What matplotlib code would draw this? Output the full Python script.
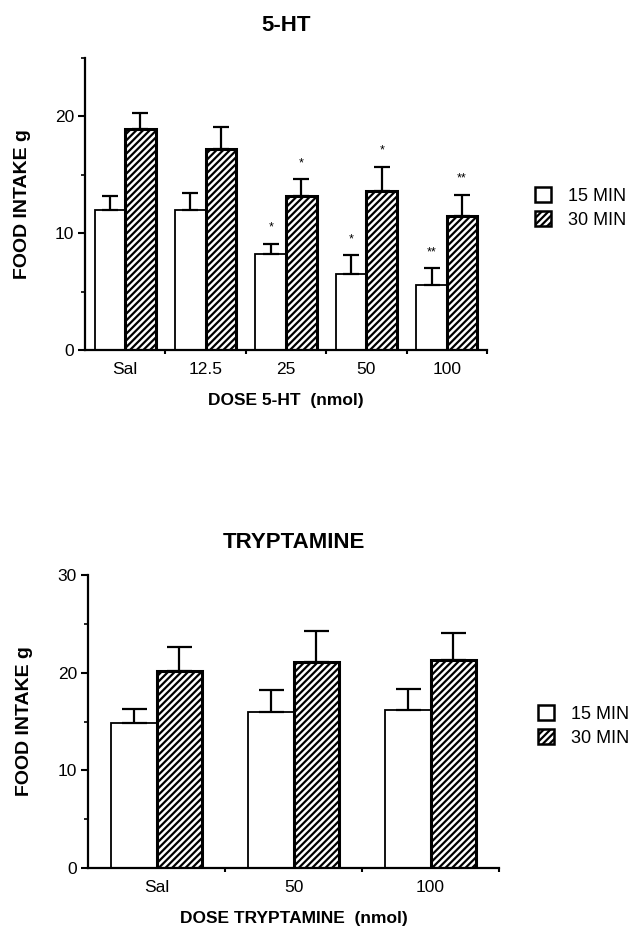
import numpy as np
import matplotlib
matplotlib.use('Agg')
import matplotlib.pyplot as plt
from matplotlib.patches import Patch

plt.rcParams['font.family'] = ['Liberation Sans', 'DejaVu Sans']
plt.rcParams['hatch.linewidth'] = 1.6

# 5-HT panel
ht_doses = ['Sal', '12.5', '25', '50', '100']
ht_15 = [12.0, 12.0, 8.2, 6.5, 5.6]
ht_15_err = [1.2, 1.4, 0.9, 1.6, 1.4]
ht_30 = [18.9, 17.2, 13.2, 13.6, 11.5]
ht_30_err = [1.4, 1.9, 1.4, 2.1, 1.8]
ht_15_sig = ['', '', '*', '*', '**']
ht_30_sig = ['', '', '*', '*', '**']

# tryptamine panel
tr_doses = ['Sal', '50', '100']
tr_15 = [14.8, 16.0, 16.2]
tr_15_err = [1.5, 2.2, 2.1]
tr_30 = [20.2, 21.1, 21.3]
tr_30_err = [2.4, 3.2, 2.8]
tr_15_sig = ['', '', '']
tr_30_sig = ['', '', '']

series_labels = ['15 MIN', '30 MIN']

W, H = 629, 926


def draw_panel(ax, doses, v15, e15, v30, e30, s15, s30, width, ymax, yticks,
               title, xlabel, capsize):
    x = np.arange(len(doses))
    ax.bar(x - width / 2, v15, width, color='white', edgecolor='black', linewidth=1.3)
    ax.bar(x + width / 2, v30, width, color='white', edgecolor='black', linewidth=2.2,
           hatch='/////')
    ax.errorbar(x - width / 2, v15, yerr=[np.zeros(len(x)), e15], fmt='none',
                ecolor='black', elinewidth=1.6, capsize=capsize, capthick=1.6)
    ax.errorbar(x + width / 2, v30, yerr=[np.zeros(len(x)), e30], fmt='none',
                ecolor='black', elinewidth=1.6, capsize=capsize, capthick=1.6)

    # significance marks
    for xs, vals, errs, sig in [(x - width / 2, v15, e15, s15), (x + width / 2, v30, e30, s30)]:
        for xi, v, e, s in zip(xs, vals, errs, sig):
            if s:
                ax.text(xi, v + e + ymax * 0.035, s, ha='center', va='bottom', fontsize=9)

    ax.set_xlim(-0.5, len(doses) - 0.5)
    ax.set_ylim(0, ymax)
    ax.set_xticks(x)
    ax.set_xticklabels(doses, fontsize=12.5)
    ax.set_xticks(np.arange(0.5, len(doses)), minor=True)
    ax.tick_params(axis='x', which='major', length=0, pad=9)
    ax.tick_params(axis='x', which='minor', length=3, width=1.5, direction='out')

    ax.set_yticks(yticks[::2])
    ax.set_yticks(yticks, minor=True)
    ax.tick_params(axis='y', which='major', length=5, width=1.5, labelsize=12.5, pad=3)
    ax.tick_params(axis='y', which='minor', length=3, width=1.2)

    for side in ['top', 'right']:
        ax.spines[side].set_visible(False)
    for side in ['left', 'bottom']:
        ax.spines[side].set_linewidth(1.6)

    ax.set_title(title, fontsize=16, fontweight='bold', pad=19.5)
    ax.set_xlabel(xlabel, fontsize=12.5, fontweight='bold')
    ax.xaxis.set_label_coords(0.5, -0.148)
    ax.set_ylabel('FOOD INTAKE g', fontsize=14, fontweight='bold')
    ax.yaxis.set_label_coords(-0.135, 0.5)


def add_legend(ax, x_px, y_px):
    handles = [Patch(facecolor='white', edgecolor='black', linewidth=1.8),
               Patch(facecolor='white', edgecolor='black', linewidth=1.8, hatch='/////')]
    ax.legend(handles, series_labels, loc='upper left', frameon=False,
              bbox_to_anchor=(x_px / W, 1 - y_px / H), bbox_transform=ax.figure.transFigure,
              borderpad=0, borderaxespad=0, handlelength=0.9, handleheight=0.9,
              handletextpad=0.95, labelspacing=0.35, fontsize=13)


fig = plt.figure(figsize=(W / 100, H / 100), dpi=100)

ax1 = fig.add_axes([85 / W, 1 - 350 / H, (487 - 85) / W, (350 - 58) / H])
draw_panel(ax1, ht_doses, ht_15, ht_15_err, ht_30, ht_30_err, ht_15_sig, ht_30_sig,
           0.38, 25, [0, 5, 10, 15, 20, 25], '5-HT', 'DOSE 5-HT  (nmol)', 6)
add_legend(ax1, 535, 187)

ax2 = fig.add_axes([88 / W, 1 - 868 / H, (499 - 88) / W, (868 - 575) / H])
draw_panel(ax2, tr_doses, tr_15, tr_15_err, tr_30, tr_30_err, tr_15_sig, tr_30_sig,
           0.33, 30, [0, 5, 10, 15, 20, 25, 30], 'TRYPTAMINE', 'DOSE TRYPTAMINE  (nmol)', 9)
add_legend(ax2, 538, 705)

fig.savefig('out.png', dpi=100)
